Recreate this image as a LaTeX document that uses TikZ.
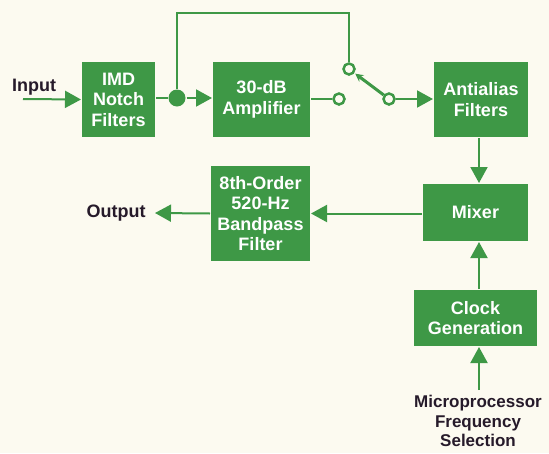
\documentclass[tikz,border=0pt]{standalone}
\usepackage{fontspec}
\setmainfont{Liberation Sans}
\usetikzlibrary{arrows.meta,positioning}
\definecolor{blockgreen}{RGB}{62,152,70}
\definecolor{paper}{RGB}{252,250,240}
\definecolor{ink}{RGB}{38,26,42}

\begin{document}
\begin{tikzpicture}[x=1pt,y=-1pt,
line width=2pt,
block/.style ={rectangle, fill=blockgreen, text=white, font=\fontsize{18}{20.5}\selectfont\bfseries,
align=center, inner sep=0pt},
label/.style ={text=ink, font=\fontsize{18}{20.5}\selectfont\bfseries, align=center, inner sep=0pt},
flow/.style ={draw=blockgreen, -{Triangle[length=16pt,width=17pt]}},
wire/.style ={draw=blockgreen},
contact/.style ={circle, draw=blockgreen, fill=paper, line width=2.5pt, minimum size=11pt, inner sep=0pt},
junction/.style ={circle, fill=blockgreen, minimum size=17pt, inner sep=0pt}]

\fill[paper] (0,0) rectangle (549,453);
\useasboundingbox (0,0) rectangle (549,453);

\node[block, minimum width=73pt, minimum height=75pt] (imd) at (118.5,99.5) {IMD\\Notch\\Filters};
\node[block, minimum width=97pt, minimum height=75pt] (amp) at (261.5,99.5) {30-dB\\Amplifier};
\node[block, minimum width=94pt, minimum height=75pt] (anti) at (481,99.5) {Antialias\\Filters};

\node[block, minimum width=105pt, minimum height=57pt] (mixer) at (475.5,212.5) {Mixer};
\node[block, minimum width=99pt, minimum height=95pt] (bpf) at (260.5,213.5) {8th-Order\\520-Hz\\Bandpass\\Filter};
\node[block, minimum width=123pt, minimum height=56pt] (clock) at (475.5,318) {Clock\\Generation};

\node[label] (input) at (34,87) {Input};
\node[label] (output) at (116,213) {Output};
\node[label, anchor=south, font=\fontsize{17}{19.5}\selectfont\bfseries] (micro) at (478,448) {Microprocessor\\Frequency\\Selection};

\node[junction] (dot) at (177,98) {};
\node[contact] (sw1) at (339,99) {};
\node[contact] (sw2) at (349,69) {};
\node[contact] (sw3) at (389,99) {};

\coordinate (src) at (23,99);
\coordinate (top) at (349,13);
\coordinate (vline) at (479,0);
\coordinate (sink) at (155,213);
\coordinate (ctrl) at (479,390);

% signal path
\draw[flow] (src) -- (imd.west);
\draw[wire] (imd.east |- dot) -- (dot);
\draw[flow] (dot) -- (amp.west |- dot);
\draw[wire] (amp.east |- sw1) -- (sw1);
\draw[wire] (dot) |- (top) -- (sw2);
\draw[draw=blockgreen, line width=3pt, -{Stealth[length=8pt,width=8pt]}, shorten >=1pt] (sw3) -- (sw2);
\draw[flow] (sw3) -- (anti.west |- sw3);

\draw[flow] (vline |- anti.south) -- (vline |- mixer.north);
\draw[flow] (mixer.west |- bpf) -- (bpf.east);
\draw[flow] (bpf.west) -- (sink);
\draw[flow] (vline |- clock.north) -- (vline |- mixer.south);
\draw[flow] (ctrl) -- (vline |- clock.south);

\end{tikzpicture}
\end{document}
